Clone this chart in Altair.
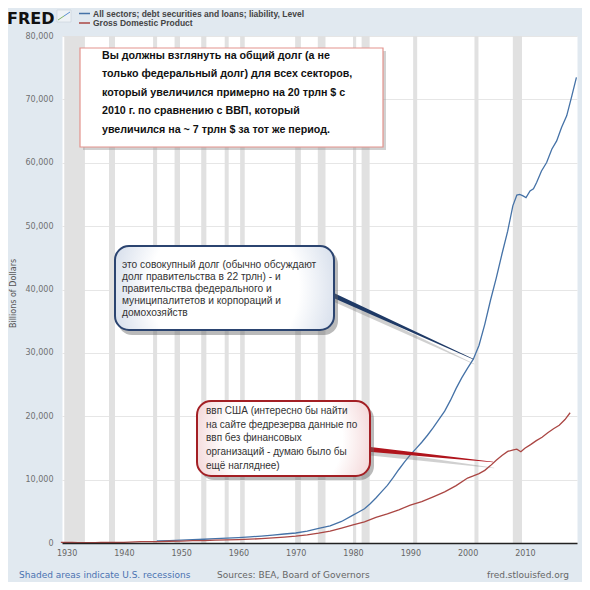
import altair as alt
import pandas as pd

# ---------------- data (billions of dollars) ----------------
debt_years = [1945.75, 1946, 1948, 1950, 1952, 1954, 1956, 1958, 1960, 1962, 1964, 1966,
              1968, 1970, 1972, 1974, 1976, 1978, 1980, 1981, 1982, 1983, 1984, 1985,
              1986, 1987, 1988, 1989, 1990, 1991, 1992, 1993, 1994, 1995, 1996, 1997,
              1998, 1999, 2000, 2001, 2002, 2003, 2004, 2005, 2006, 2007, 2007.9, 2008.6,
              2009.1, 2009.6, 2010.2, 2010.9, 2011.5, 2012.05, 2012.9, 2013.8, 2014.7,
              2015.55, 2016.4, 2017.3, 2018.2, 2019.0]
debt_values = [330, 340, 380, 450, 520, 590, 680, 760, 860, 960, 1100, 1250,
               1420, 1580, 1880, 2300, 2700, 3400, 4400, 4900, 5400, 6200, 7100, 8100,
               9100, 10300, 11600, 12800, 13900, 14900, 15900, 17000, 18200, 19500, 20800, 22500,
               24400, 26100, 27600, 29000, 31200, 34500, 38300, 41800, 45600, 49200, 53200, 54900,
               55000, 54800, 54500, 55550, 55900, 56870, 58700, 60030, 62130,
               63450, 65570, 67400, 70560, 73470]

gdp_years = [1929, 1930, 1931, 1932, 1933, 1934, 1935, 1936, 1937, 1938, 1939, 1940, 1941,
             1942, 1943, 1944, 1945, 1946, 1948, 1950, 1952, 1954, 1956, 1958, 1960, 1962,
             1964, 1966, 1968, 1970, 1972, 1974, 1976, 1978, 1980, 1982, 1984, 1986, 1988,
             1990, 1992, 1994, 1996, 1998, 2000, 2001, 2002, 2003, 2004, 2005, 2006, 2007,
             2008, 2008.6, 2009.3, 2010, 2011, 2012, 2013, 2014, 2015, 2016, 2017, 2017.9]
gdp_values = [105, 92, 77, 60, 57, 67, 74, 85, 93, 87, 94, 103, 130,
              166, 203, 225, 228, 228, 275, 300, 360, 390, 450, 490, 540, 600,
              690, 815, 940, 1070, 1280, 1550, 1870, 2350, 2850, 3340, 4040, 4580, 5240,
              5960, 6520, 7290, 8070, 9060, 10250, 10580, 10940, 11460, 12210, 13040, 13810, 14450,
              14700, 14800, 14400, 14960, 15520, 16150, 16690, 17390, 18040, 18570, 19480, 20550]

rec_start = [1929.6, 1937.4, 1945.1, 1948.85, 1953.5, 1957.6, 1960.3, 1969.9, 1973.85,
             1980.0, 1981.5, 1990.5, 2001.2, 2007.9]
rec_end = [1933.2, 1938.45, 1945.8, 1949.8, 1954.4, 1958.3, 1961.1, 1970.9, 1975.2,
           1980.55, 1982.9, 1991.2, 2001.9, 2009.5]

x_ticks = [1930, 1940, 1950, 1960, 1970, 1980, 1990, 2000, 2010]
y_ticks = [0, 10000, 20000, 30000, 40000, 50000, 60000, 70000, 80000]

series_names = ["All sectors; debt securities and loans; liability, Level",
                "Gross Domestic Product"]
series_colors = ["#4572a7", "#aa4643"]

big_lines = ["Вы должны взглянуть на общий долг (а не",
             "только федеральный долг) для всех секторов,",
             "который увеличился примерно на 20 трлн $ с",
             "2010 г. по сравнению с ВВП, который",
             "увеличился на ~ 7 трлн $ за тот же период."]
blue_lines = ["это совокупный долг (обычно обсуждают",
              "долг правительства в 22 трлн) - и",
              "правительства федерального и",
              "муниципалитетов  и корпораций и",
              "домохозяйств"]
red_lines = ["ввп США (интересно бы найти",
             "на сайте федрезерва данные по",
             "ввп без финансовых",
             "организаций - думаю было бы",
             "ещё нагляднее)"]

# ---------------- layout ----------------
W, H = 515, 507
X0, X1 = 1929.2, 2019.1
Y0, Y1 = 0, 80000
PL, PT = 62, 36  # page position of the plot origin
SVG = 574        # 590 page minus 8px margins


def to_data(px, py):
    return (X0 + (px - PL) / W * (X1 - X0), Y0 + (PT + H - py) / H * (Y1 - Y0))


AX = "DejaVu Sans"
xscale = alt.Scale(domain=[X0, X1], nice=False, zero=False)
yscale = alt.Scale(domain=[Y0, Y1], nice=False)
xaxis = alt.Axis(values=x_ticks, format="d", title=None, grid=False, labelFont=AX,
                 labelFontSize=8, labelColor="#666", domainColor="#222", domainWidth=1.5,
                 ticks=False, labelPadding=6, zindex=1, labelFlush=False)
yaxis = alt.Axis(values=y_ticks, format=",d", title="Billions of Dollars", titleFont=AX,
                 titleFontSize=8, titleFontWeight="normal", titleColor="#555",
                 titleX=-48.5, titleY=257, titleAngle=270, titleAlign="center",
                 titleBaseline="middle", labelFont=AX, labelFontSize=8, labelColor="#707070",
                 domain=False, ticks=False, labelPadding=9, grid=True, gridColor="#e6e6e6",
                 gridWidth=1)

dummy = pd.DataFrame({"d": [0]})

rec_df = pd.DataFrame({"start": rec_start, "end": rec_end})
rec = alt.Chart(rec_df).mark_rect(color="#e1e1e1").encode(
    x=alt.X("start:Q", scale=xscale, axis=xaxis),
    x2="end:Q",
    y=alt.value(0), y2=alt.value(H))

lines_df = pd.concat([
    pd.DataFrame({"year": debt_years, "value": debt_values, "series": series_names[0]}),
    pd.DataFrame({"year": gdp_years, "value": gdp_values, "series": series_names[1]}),
])
lines = alt.Chart(lines_df).mark_line(strokeWidth=1.3).encode(
    x=alt.X("year:Q", scale=xscale, axis=xaxis),
    y=alt.Y("value:Q", scale=yscale, axis=yaxis),
    color=alt.Color("series:N", scale=alt.Scale(domain=series_names, range=series_colors),
                    legend=None))


def box(x1, y1, x2, y2, **kw):
    return alt.Chart(dummy).mark_rect(**kw).encode(
        x=alt.value(x1 - PL), x2=alt.value(x2 - PL), y=alt.value(y1 - PT), y2=alt.value(y2 - PT))


def text(px, py, txt, **kw):
    return alt.Chart(dummy).mark_text(text=txt, **kw).encode(
        x=alt.value(px - PL), y=alt.value(py - PT))


def tail(p_start, p_end, w0, color, dy=0, opacity=1.0):
    a = to_data(p_start[0], p_start[1] + dy)
    b = to_data(p_end[0], p_end[1] + dy)
    df = pd.DataFrame({"tx": [a[0], b[0]], "ty": [a[1], b[1]], "w": [w0, 0.6]})
    return alt.Chart(df).mark_trail(color=color, opacity=opacity).encode(
        x=alt.X("tx:Q", scale=xscale, axis=xaxis),
        y=alt.Y("ty:Q", scale=yscale, axis=yaxis),
        size=alt.Size("w:Q", scale=None, legend=None))


# big white note
big_shadow = box(83, 51, 386, 150, color="#9a9a9a", opacity=0.45)
big_box = box(80, 48, 383, 147, fill="white", stroke="#e3938d", strokeWidth=1.2)
big_text = text(102, 50.5, big_lines, font="Liberation Sans", fontWeight="bold", fontSize=10.7,
                lineHeight=18.5, align="left", baseline="top", color="#111")

# blue bubble
blue_grad = alt.RadialGradient(gradient="radial",
                               stops=[alt.GradientStop(color="#ffffff", offset=0.55),
                                      alt.GradientStop(color="#c3cfe2", offset=1)],
                               x1=0.5, y1=0.5, r1=0, x2=0.5, y2=0.5, r2=0.62)
blue_tail_sh = tail((326, 292), (474, 361), 6, "#777", dy=3, opacity=0.35)
blue_tail = tail((326, 292), (473, 359), 5, "#1f3a66")
blue_shadow = box(118, 250, 338, 335, color="#666", opacity=0.45, cornerRadius=14)
blue_box = box(115, 246, 334, 330, fill=blue_grad, stroke="#2b4470", strokeWidth=2,
               cornerRadius=14)
blue_text = text(122, 260, blue_lines, font="Liberation Sans", fontSize=10.2, lineHeight=12,
                 align="left", baseline="top", color="#333")

# red bubble
red_grad = alt.RadialGradient(gradient="radial",
                              stops=[alt.GradientStop(color="#ffffff", offset=0.55),
                                     alt.GradientStop(color="#eec4c6", offset=1)],
                              x1=0.5, y1=0.5, r1=0, x2=0.5, y2=0.5, r2=0.62)
red_tail_sh = tail((366, 449), (494, 465), 6, "#777", dy=3, opacity=0.35)
red_tail = tail((366, 449), (493, 462), 5, "#b0141c")
red_shadow = box(200, 405, 374, 480, color="#666", opacity=0.45, cornerRadius=14)
red_box = box(197, 401, 370, 476, fill=red_grad, stroke="#a31f24", strokeWidth=2,
              cornerRadius=14)
red_text = text(206, 406, red_lines, font="Liberation Sans", fontSize=10, lineHeight=13.7,
                align="left", baseline="top", color="#333")

# header
fred = text(7, 23.5, "FRED", font=AX, fontWeight="bold", fontSize=16, align="left",
            baseline="alphabetic", color="#111")
icon_bg = box(57, 10, 71, 22, fill="#eef2f6", stroke="#c8d0da", strokeWidth=0.6)
icon_l1 = alt.Chart(dummy).mark_rule(color="#7fb36a", strokeWidth=1).encode(
    x=alt.value(58 - PL), x2=alt.value(64 - PL), y=alt.value(20 - PT), y2=alt.value(16 - PT))
icon_l2 = alt.Chart(dummy).mark_rule(color="#5b8fd0", strokeWidth=1).encode(
    x=alt.value(64 - PL), x2=alt.value(70 - PL), y=alt.value(16 - PT), y2=alt.value(12 - PT))
leg_b = alt.Chart(dummy).mark_rule(color=series_colors[0], strokeWidth=1.5).encode(
    x=alt.value(79 - PL), x2=alt.value(90 - PL), y=alt.value(13.5 - PT))
leg_r = alt.Chart(dummy).mark_rule(color=series_colors[1], strokeWidth=1.5).encode(
    x=alt.value(79 - PL), x2=alt.value(90 - PL), y=alt.value(23 - PT))
leg_bt = text(93, 13.5, series_names[0], font="Liberation Sans", fontWeight="bold", fontSize=8.5,
              align="left", baseline="middle", color="#444")
leg_rt = text(93, 23, series_names[1], font="Liberation Sans", fontWeight="bold", fontSize=8.5,
              align="left", baseline="middle", color="#444")

# footer
foot1 = text(19, 575, "Shaded areas indicate U.S. recessions", font=AX, fontSize=9,
             align="left", baseline="middle", color="#4a72b0")
foot2 = text(217, 575, "Sources: BEA, Board of Governors", font=AX, fontSize=9,
             align="left", baseline="middle", color="#666")
foot3 = text(569, 575, "fred.stlouisfed.org", font=AX, fontSize=9,
             align="right", baseline="middle", color="#666")

chart = alt.layer(
    rec, lines,
    big_shadow, big_box, big_text,
    blue_tail_sh, blue_tail, blue_shadow, blue_box, blue_text,
    red_tail_sh, red_tail, red_shadow, red_box, red_text,
    fred, icon_bg, icon_l1, icon_l2, leg_b, leg_r, leg_bt, leg_rt,
    foot1, foot2, foot3,
).properties(
    width=W, height=H,
    autosize=alt.AutoSizeParams(type="none"),
    padding={"left": PL - 8, "top": PT - 8, "right": SVG - (PL - 8) - W,
             "bottom": SVG - (PT - 8) - H},
    background="#e1e9f0",
).configure_view(fill="white", stroke="transparent")

chart.save("out.html", embed_options={"renderer": "svg", "actions": False})
